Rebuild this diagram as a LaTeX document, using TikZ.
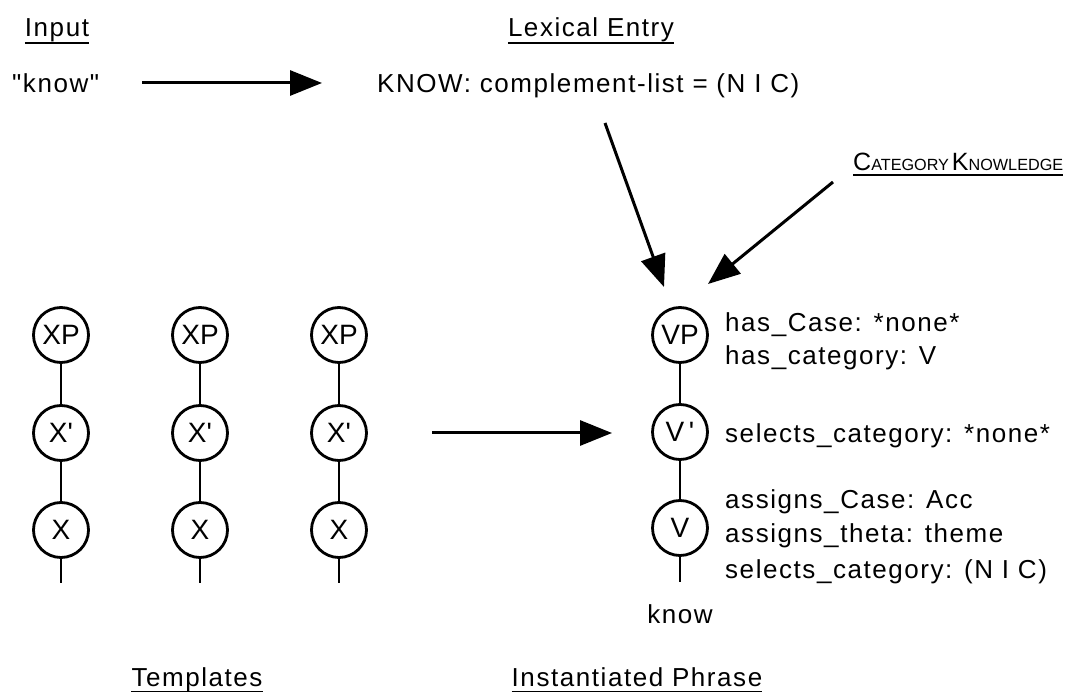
\documentclass[tikz,border=0pt]{standalone}
\usepackage{fontspec}
\setmainfont{Liberation Sans}
\newfontfamily\trackedfont[LetterSpace=6]{Liberation Sans}
\newfontfamily\nodefont[Ligatures=ResetAll]{Liberation Sans}
\usetikzlibrary{arrows.meta}
\begin{document}
\begin{tikzpicture}[x=1pt,y=-1pt,
  txt/.style={inner sep=0pt, font=\trackedfont\fontsize{26}{26}\selectfont},
  cat/.style={circle, draw, line width=2.8pt, minimum size=55pt, inner sep=0pt,
              font=\nodefont\fontsize{28}{28}\selectfont},
  link/.style={line width=2.8pt},
  uline/.style={line width=1.4pt},
  bigarrow/.style={line width=3pt, -{Triangle[length=32pt,width=25pt]}}]
\useasboundingbox (0,0) rectangle (1077,692);

% headings
\node[txt, anchor=base] (inp) at (57,37) {Input};
\node[txt, anchor=base] (lex) at (591,37) {Lexical Entry};
\node[txt, anchor=base] (tpl) at (197,686) {Templates};
\node[txt, anchor=base] (inst) at (637,686) {Instantiated Phrase};
\foreach \n in {inp,lex,tpl,inst}
  \draw[uline] ([yshift=-6pt]\n.base west) -- ([yshift=-6pt]\n.base east);

\node[inner sep=0pt, anchor=base west, font=\fontsize{25}{25}\selectfont] (ck) at (853,171)
  {C{\fontsize{16.2}{17}\selectfont ATEGORY}\hspace{3pt}K{\fontsize{16.2}{17}\selectfont NOWLEDGE}};
\draw[uline] ([yshift=-4pt]ck.base west) -- ([yshift=-4pt]ck.base east);

% input and lexical entry
\node[txt, anchor=base west] (word) at (12,93) {"know"};
\node[txt, anchor=base west] (entry) at (377,93) {KNOW: complement-list = (N I C)};

\coordinate (a1s) at (142,83);
\coordinate (a1e) at (322,83);
\draw[bigarrow] (a1s) -- (a1e);

% arrows into the instantiated phrase
\coordinate (a2s) at (605,123);
\coordinate (a2e) at (664,287);
\draw[bigarrow] (a2s) -- (a2e);
\coordinate (a3s) at (833,182);
\coordinate (a3e) at (708,284);
\draw[bigarrow] (a3s) -- (a3e);

% templates
\foreach \i/\x in {1/61,2/200,3/339}{
  \node[cat] (xp\i) at (\x,335) {XP};
  \node[cat] (xb\i) at (\x,433) {X'};
  \node[cat] (x\i) at (\x,530) {X};
  \coordinate (xe\i) at (\x,583);
  \draw[link] (xp\i) -- (xb\i) -- (x\i) -- (xe\i);
}

\coordinate (a4s) at (432,433);
\coordinate (a4e) at (612,433);
\draw[bigarrow] (a4s) -- (a4e);

% instantiated phrase
\node[cat] (vp) at (680,335) {VP};
\node[cat] (vb) at (680,432) {V\,'};
\node[cat] (v) at (680,528) {V};
\coordinate (ve) at (680,582);
\draw[link] (vp) -- (vb) -- (v) -- (ve);
\node[txt, anchor=base] (lexw) at (680,623) {know};

\node[txt, anchor=base west] (f1) at (725,332) {has\_Case: *none*};
\node[txt, anchor=base west] (f2) at (725,365) {has\_category: V};
\node[txt, anchor=base west] (f3) at (725,443) {selects\_category: *none*};
\node[txt, anchor=base west] (f4) at (725,509) {assigns\_Case: Acc};
\node[txt, anchor=base west] (f5) at (725,543) {assigns\_theta: theme};
\node[txt, anchor=base west] (f6) at (725,578) {selects\_category: (N I C)};
\end{tikzpicture}
\end{document}
